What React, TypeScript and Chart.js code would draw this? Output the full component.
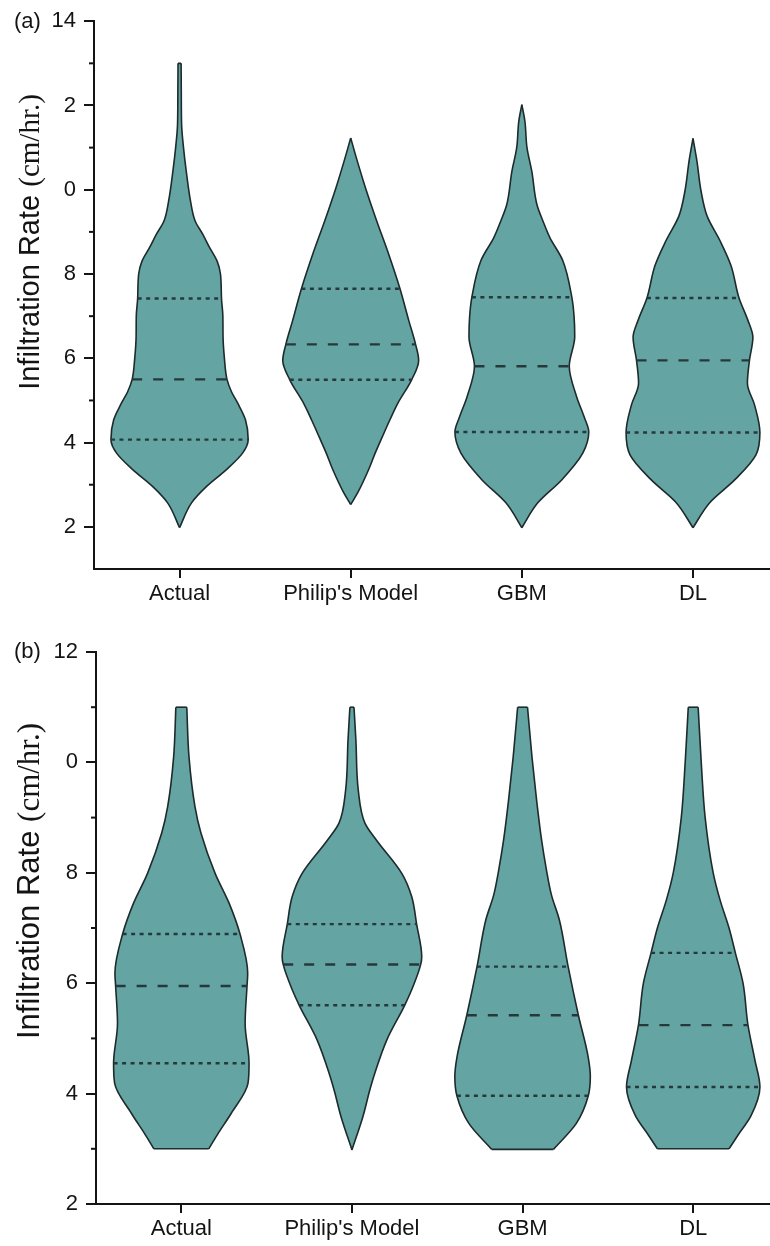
import React, { useEffect, useRef } from 'react';
import { Chart, registerables } from 'chart.js';

Chart.register(...registerables);

// ---------- shared ----------
const categories = ['Actual', "Philip's Model", 'GBM', 'DL'];

// ---------- panel (a) ----------
const yTicksA = [2, 4, 6, 8, 10, 12, 14];
const yTickTextA = ['2', '4', '6', '8', '0', '2', '14'];
const yMinorA = [3, 5, 7, 9, 11, 13];

// violin outlines: levels (cm/hr.) and half-widths (in category units)
const aActualLevels = [1.98, 2.57, 2.96, 3.36, 3.75, 4.07, 4.54, 4.94, 5.2, 5.5, 6.0, 6.51, 7.0, 7.42, 8.0, 8.3, 8.63, 8.94, 9.26, 9.73, 10.44, 11.0, 11.54, 12.3, 13.0];
const aActualHalf = [0, 0.07, 0.158, 0.274, 0.368, 0.401, 0.385, 0.339, 0.304, 0.277, 0.262, 0.254, 0.253, 0.245, 0.239, 0.22, 0.175, 0.136, 0.091, 0.064, 0.039, 0.023, 0.012, 0.01, 0.009];

const aPhilipLevels = [2.53, 2.81, 3.36, 3.75, 4.14, 4.53, 4.93, 5.49, 5.95, 6.33, 6.9, 7.65, 8.47, 9.26, 10.05, 10.84, 11.23];
const aPhilipHalf = [0, 0.041, 0.105, 0.143, 0.185, 0.228, 0.275, 0.356, 0.397, 0.379, 0.339, 0.288, 0.222, 0.152, 0.086, 0.027, 0];

const aGbmLevels = [1.98, 2.57, 3.12, 3.75, 4.25, 4.6, 5.09, 5.81, 6.51, 7.0, 7.45, 8.32, 8.87, 9.26, 9.65, 10.44, 11.0, 11.62, 12.02];
const aGbmHalf = [0, 0.093, 0.234, 0.356, 0.391, 0.365, 0.32, 0.277, 0.309, 0.305, 0.292, 0.239, 0.163, 0.123, 0.088, 0.058, 0.03, 0.018, 0];

const aDlLevels = [1.98, 2.58, 3.12, 3.71, 4.24, 4.89, 5.41, 5.95, 6.5, 6.9, 7.43, 8.2, 8.79, 9.38, 9.97, 10.68, 11.22];
const aDlHalf = [0, 0.099, 0.245, 0.368, 0.391, 0.36, 0.318, 0.33, 0.35, 0.321, 0.269, 0.222, 0.158, 0.082, 0.047, 0.023, 0];

const aQ1 = [4.07, 5.49, 4.25, 4.24];
const aMedian = [5.5, 6.33, 5.81, 5.95];
const aQ3 = [7.42, 7.65, 7.45, 7.43];

// ---------- panel (b) ----------
const yTicksB = [2, 4, 6, 8, 10, 12];
const yTickTextB = ['2', '4', '6', '8', '0', '12'];
const yMinorB = [3, 5, 7, 9, 11];

const bActualLevels = [3.0, 3.28, 3.64, 4.19, 4.55, 5.27, 5.95, 6.18, 6.89, 7.45, 7.99, 8.72, 9.2, 10.1, 11.0];
const bActualHalf = [0.161, 0.216, 0.292, 0.391, 0.397, 0.374, 0.385, 0.389, 0.344, 0.28, 0.198, 0.115, 0.08, 0.045, 0.032];

const bPhilipLevels = [2.98, 3.58, 4.07, 4.37, 4.97, 5.6, 5.88, 6.34, 6.48, 7.07, 7.57, 7.99, 8.59, 8.9, 9.5, 10.41, 11.0];
const bPhilipHalf = [0, 0.064, 0.105, 0.134, 0.204, 0.309, 0.35, 0.403, 0.409, 0.379, 0.35, 0.292, 0.144, 0.076, 0.037, 0.023, 0.012];

const bGbmLevels = [2.99, 3.46, 3.96, 4.31, 4.67, 5.42, 6.3, 7.14, 7.6, 8.05, 8.6, 9.32, 10.1, 11.0];
const bGbmHalf = [0.181, 0.315, 0.385, 0.397, 0.384, 0.327, 0.267, 0.216, 0.169, 0.14, 0.111, 0.082, 0.055, 0.029];

const bDlLevels = [3.0, 3.25, 3.6, 4.12, 4.6, 5.24, 6.0, 6.55, 7.0, 7.5, 8.0, 9.0, 10.0, 11.0];
const bDlHalf = [0.21, 0.263, 0.339, 0.391, 0.362, 0.321, 0.292, 0.247, 0.21, 0.158, 0.117, 0.07, 0.047, 0.029];

const bQ1 = [4.55, 5.6, 3.96, 4.12];
const bMedian = [5.95, 6.34, 5.42, 5.24];
const bQ3 = [6.89, 7.07, 6.3, 6.55];

// ---------- styles ----------
const FILL = '#64a4a3';
const OUTLINE = '#1d2b2c';
const QLINE = '#27383c';
const AXIS = '#141414';
const SANS = '"Liberation Sans", Arial, Helvetica, sans-serif';
const SERIF = '"Liberation Serif", "Times New Roman", Times, serif';

type Violin = { levels: number[]; half: number[] };

function halfAt(v: Violin, y: number): number {
  const { levels, half } = v;
  for (let i = 0; i < levels.length; i++) {
    if (Math.abs(levels[i] - y) < 1e-9) return half[i];
  }
  for (let i = 0; i < levels.length - 1; i++) {
    if (y >= levels[i] && y <= levels[i + 1]) {
      const t = (y - levels[i]) / (levels[i + 1] - levels[i]);
      return half[i] + t * (half[i + 1] - half[i]);
    }
  }
  return 0;
}

function buildDatasets(violins: Violin[], q1: number[], med: number[], q3: number[]) {
  const ds: any[] = [];
  violins.forEach((v, i) => {
    const left = v.levels.map((y, k) => ({ x: i - v.half[k], y }));
    const right = v.levels.map((y, k) => ({ x: i + v.half[k], y }));
    const common = {
      borderColor: OUTLINE,
      borderWidth: 1.6,
      backgroundColor: FILL,
      pointRadius: 0,
      cubicInterpolationMode: 'monotone',
      order: 3,
    };
    ds.push({ ...common, data: left, fill: false });
    ds.push({ ...common, data: right, fill: '-1' });
  });
  violins.forEach((v, i) => {
    const n = v.levels.length;
    [0, n - 1].forEach((k) => {
      ds.push({
        data: [
          { x: i - v.half[k], y: v.levels[k] },
          { x: i + v.half[k], y: v.levels[k] },
        ],
        borderColor: OUTLINE,
        borderWidth: 1.6,
        pointRadius: 0,
        fill: false,
        order: 2,
      });
    });
  });
  const addQ = (vals: number[], dash: number[]) => {
    vals.forEach((q, i) => {
      const w = halfAt(violins[i], q);
      ds.push({
        data: [
          { x: i - w, y: q },
          { x: i + w, y: q },
        ],
        borderColor: QLINE,
        borderWidth: 2.4,
        borderDash: dash,
        pointRadius: 0,
        fill: false,
        order: 0,
      });
    });
  };
  addQ(q1, [4, 4.5]);
  addQ(q3, [4, 4.5]);
  addQ(med, [10, 11]);
  return ds;
}

const decorPlugin = {
  id: 'decor',
  afterDraw(chart: any, _args: any, opts: any) {
    const { ctx } = chart;
    const y = chart.scales.y;
    const left = chart.chartArea.left;
    ctx.save();
    // minor ticks
    ctx.strokeStyle = AXIS;
    ctx.lineWidth = 2;
    (opts.minor || []).forEach((v: number) => {
      const py = y.getPixelForValue(v);
      ctx.beginPath();
      ctx.moveTo(left - 5, py);
      ctx.lineTo(left, py);
      ctx.stroke();
    });
    // panel label
    ctx.fillStyle = AXIS;
    ctx.textBaseline = 'alphabetic';
    ctx.textAlign = 'left';
    ctx.font = `22px ${SANS}`;
    ctx.fillText(opts.panel, 14, opts.panelBaseline);
    // y title (mixed fonts)
    const size = opts.titleSize;
    const part1 = 'Infiltration Rate ';
    const part2 = '(cm/hr.)';
    ctx.font = `${size}px ${SANS}`;
    const w1 = ctx.measureText(part1).width;
    ctx.font = `${size}px ${SERIF}`;
    const w2 = ctx.measureText(part2).width;
    const total = w1 + w2;
    ctx.translate(opts.titleX, opts.titleCenterY);
    ctx.rotate(-Math.PI / 2);
    ctx.font = `${size}px ${SANS}`;
    ctx.fillText(part1, -total / 2, 0);
    ctx.font = `${size}px ${SERIF}`;
    ctx.fillText(part2, -total / 2 + w1, 0);
    ctx.restore();
  },
};

type PanelCfg = {
  violins: Violin[];
  q1: number[];
  med: number[];
  q3: number[];
  yMin: number;
  yMax: number;
  yTicks: number[];
  yTickText: string[];
  yMinor: number[];
  padTop: number;
  yAxisWidth: number;
  xAxisHeight: number;
  panel: string;
  panelBaseline: number;
  titleCenterY: number;
  titleSize: number;
};

function ViolinPanel({ cfg }: { cfg: PanelCfg }) {
  const ref = useRef<HTMLCanvasElement>(null);
  useEffect(() => {
    const chart = new Chart(ref.current as HTMLCanvasElement, {
      type: 'line',
      data: { datasets: buildDatasets(cfg.violins, cfg.q1, cfg.med, cfg.q3) },
      options: {
        animation: false,
        responsive: false,
        indexAxis: 'y',
        layout: { padding: { top: cfg.padTop, left: 0, right: 0, bottom: 0 } },
        plugins: {
          legend: { display: false },
          tooltip: { enabled: false },
          decor: {
            minor: cfg.yMinor,
            panel: cfg.panel,
            panelBaseline: cfg.panelBaseline,
            titleX: 39,
            titleCenterY: cfg.titleCenterY,
            titleSize: cfg.titleSize,
          },
        } as any,
        scales: {
          x: {
            type: 'linear',
            min: -0.5,
            max: 3.45,
            afterBuildTicks: (s: any) => {
              s.ticks = categories.map((_, i) => ({ value: i }));
            },
            afterFit: (s: any) => {
              s.height = cfg.xAxisHeight;
            },
            ticks: {
              autoSkip: false,
              maxRotation: 0,
              padding: 3,
              color: AXIS,
              font: { family: SANS, size: 22 },
              callback: (v: any) => categories[Math.round(Number(v))] ?? '',
            },
            grid: { drawOnChartArea: false, drawTicks: true, tickLength: 9, color: AXIS, lineWidth: 2 },
            border: { display: true, color: AXIS, width: 2 },
          },
          y: {
            type: 'linear',
            min: cfg.yMin,
            max: cfg.yMax,
            afterBuildTicks: (s: any) => {
              s.ticks = cfg.yTicks.map((v) => ({ value: v }));
            },
            afterFit: (s: any) => {
              s.width = cfg.yAxisWidth;
            },
            ticks: {
              padding: 8,
              color: AXIS,
              font: { family: SANS, size: 22 },
              callback: (v: any) => {
                const idx = cfg.yTicks.indexOf(Number(v));
                return idx >= 0 ? cfg.yTickText[idx] : '';
              },
            },
            grid: { drawOnChartArea: false, drawTicks: true, tickLength: 10, color: AXIS, lineWidth: 2 },
            border: { display: true, color: AXIS, width: 2 },
          },
        } as any,
      },
      plugins: [decorPlugin],
    } as any);
    return () => chart.destroy();
  }, [cfg]);
  return <canvas ref={ref} width={770} height={623} style={{ display: 'block', width: 770, height: 623 }} />;
}

const panelA: PanelCfg = {
  violins: [
    { levels: aActualLevels, half: aActualHalf },
    { levels: aPhilipLevels, half: aPhilipHalf },
    { levels: aGbmLevels, half: aGbmHalf },
    { levels: aDlLevels, half: aDlHalf },
  ],
  q1: aQ1,
  med: aMedian,
  q3: aQ3,
  yMin: 1,
  yMax: 14,
  yTicks: yTicksA,
  yTickText: yTickTextA,
  yMinor: yMinorA,
  padTop: 18.5,
  yAxisWidth: 94,
  xAxisHeight: 54,
  panel: '(a)',
  panelBaseline: 28,
  titleCenterY: 242,
  titleSize: 29,
};

const panelB: PanelCfg = {
  violins: [
    { levels: bActualLevels, half: bActualHalf },
    { levels: bPhilipLevels, half: bPhilipHalf },
    { levels: bGbmLevels, half: bGbmHalf },
    { levels: bDlLevels, half: bDlHalf },
  ],
  q1: bQ1,
  med: bMedian,
  q3: bQ3,
  yMin: 2,
  yMax: 12,
  yTicks: yTicksB,
  yTickText: yTickTextB,
  yMinor: yMinorB,
  padTop: 29,
  yAxisWidth: 96,
  xAxisHeight: 42,
  panel: '(b)',
  panelBaseline: 35,
  titleCenterY: 258,
  titleSize: 31,
};

export default function App() {
  useEffect(() => {
    document.body.style.margin = '0';
    document.body.style.background = '#ffffff';
  }, []);
  return (
    <div style={{ width: 770, height: 1246, background: '#fff' }}>
      <ViolinPanel cfg={panelA} />
      <ViolinPanel cfg={panelB} />
    </div>
  );
}
